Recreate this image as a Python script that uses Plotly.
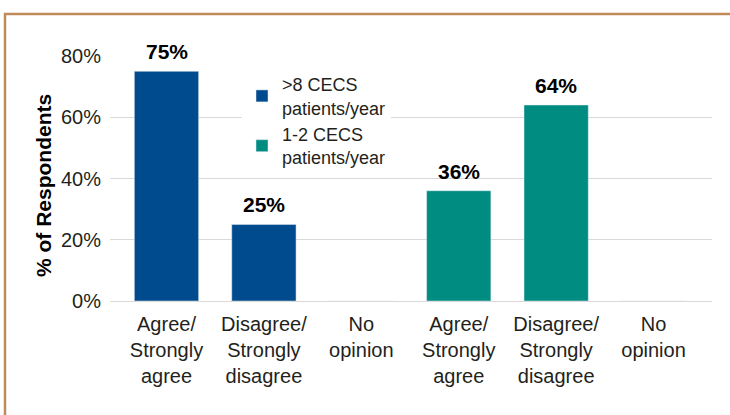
import plotly.graph_objects as go

categories = ["Agree/<br>Strongly<br>agree", "Disagree/<br>Strongly<br>disagree", "No<br>opinion",
              "Agree/<br>Strongly<br>agree", "Disagree/<br>Strongly<br>disagree", "No<br>opinion"]
positions = [0, 1, 2, 3, 4, 5]
high_volume = [75, 25, 0]      # >8 CECS patients/year
low_volume = [36, 64, 0]       # 1-2 CECS patients/year
series_names = [">8 CECS<br>patients/year", "1-2 CECS<br>patients/year"]
y_ticks = [0, 20, 40, 60, 80]
y_tick_labels = ["0%", "20%", "40%", "60%", "80%"]
y_title = "% of Respondents"

FONT = "Liberation Sans, Arial, Helvetica, sans-serif"
BLUE = "#004B8D"
TEAL = "#008C80"
TXT = "#231F20"

fig = go.Figure()
fig.add_trace(go.Bar(
    x=positions[:3], y=high_volume, name=series_names[0],
    marker_color=BLUE, width=0.66,
))
fig.add_trace(go.Bar(
    x=positions[3:], y=low_volume, name=series_names[1],
    marker_color=TEAL, width=0.66,
))

# value labels above the bars (skip zero values)
annotations = []
for xs, vals in ((positions[:3], high_volume), (positions[3:], low_volume)):
    for xv, v in zip(xs, vals):
        if v > 0:
            annotations.append(dict(
                x=xv, y=v, xref="x", yref="y", text=f"{v}%", showarrow=False,
                yanchor="bottom", yshift=6,
                font=dict(family=FONT, size=21, color="#000", weight="bold"),
            ))

L, R, T, B = 110, 18, 56, 114
W, H = 730, 415
pw, ph = W - L - R, H - T - B

def px(xp):
    return (xp - L) / pw

def py(yp):
    return (H - B - yp) / ph

annotations.append(dict(
    x=px(44), y=py(186), xref="paper", yref="paper", text=y_title,
    textangle=-90, showarrow=False, xanchor="center", yanchor="middle",
    font=dict(family=FONT, size=21, color="#000", weight="bold"),
))

fig.update_layout(
    width=W, height=H,
    margin=dict(l=L, r=R, t=T, b=B),
    paper_bgcolor="white", plot_bgcolor="white",
    barmode="overlay",
    font=dict(family=FONT, size=20, color=TXT),
    showlegend=True,
    legend=dict(
        x=px(242), y=py(66), xanchor="left", yanchor="top",
        bgcolor="white", font=dict(family=FONT, size=18, color=TXT),
        valign="middle", tracegroupgap=8,
    ),
    xaxis=dict(
        tickmode="array", tickvals=positions, ticktext=categories,
        range=[-0.58, 5.6], showgrid=False, zeroline=False, showline=False,
        ticks="outside", ticklen=5, tickcolor="rgba(0,0,0,0)",
        tickfont=dict(family=FONT, size=20, color=TXT),
    ),
    yaxis=dict(
        range=[0, 80], tickmode="array", tickvals=y_ticks, ticktext=y_tick_labels,
        showgrid=True, gridcolor="#D9D9D9", gridwidth=1.3,
        zeroline=True, zerolinecolor="#D9D9D9", zerolinewidth=1.3,
        ticks="outside", ticklen=4, tickcolor="rgba(0,0,0,0)",
        tickfont=dict(family=FONT, size=20, color=TXT),
    ),
    annotations=annotations,
    shapes=[dict(
        type="path", xref="paper", yref="paper",
        path=f"M {px(5)} {py(420)} L {px(5)} {py(14)} L {px(735)} {py(14)}",
        line=dict(color="#C08A5B", width=2.5),
    )],
)

fig.write_html("out.html", config={"displayModeBar": False},
               post_script="document.body.style.margin='0';")
